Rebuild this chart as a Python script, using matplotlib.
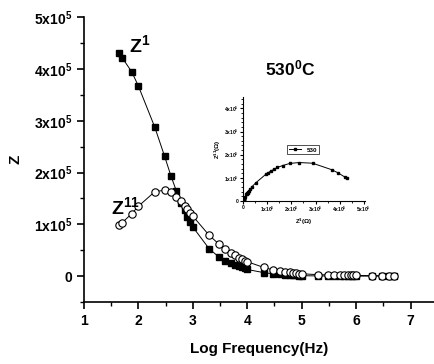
import matplotlib
matplotlib.use("Agg")
import matplotlib.pyplot as plt
from matplotlib.ticker import FixedLocator, MultipleLocator

plt.rcParams['font.family'] = ['Liberation Sans', 'DejaVu Sans']
plt.rcParams['font.weight'] = 'bold'
plt.rcParams['mathtext.fontset'] = 'custom'
plt.rcParams['mathtext.rm'] = 'Liberation Sans'
plt.rcParams['mathtext.bf'] = 'Liberation Sans:bold'
plt.rcParams['mathtext.default'] = 'bf'

# log frequency (Hz)
log_freq = [1.65, 1.70, 1.88, 2.0, 2.3, 2.48, 2.6, 2.7, 2.78, 2.85, 2.9, 2.95, 3.0,
            3.3, 3.48, 3.6, 3.7, 3.78, 3.85, 3.9, 3.95, 4.0,
            4.3, 4.48, 4.6, 4.7, 4.78, 4.85, 4.9, 4.95, 5.0,
            5.3, 5.48, 5.6, 5.7, 5.78, 5.85, 5.9, 5.95, 6.0,
            6.3, 6.48, 6.6, 6.7]

# Z' (real part), ohm
z_real = [4.31e5, 4.22e5, 3.94e5, 3.67e5, 2.88e5, 2.32e5, 1.93e5, 1.64e5, 1.42e5, 1.27e5, 1.14e5, 1.04e5, 0.95e5,
          0.53e5, 0.37e5, 0.30e5, 0.26e5, 0.22e5, 0.19e5, 0.17e5, 0.15e5, 0.13e5,
          0.07e5, 0.045e5, 0.035e5, 0.028e5, 0.022e5, 0.018e5, 0.015e5, 0.012e5, 0.010e5,
          0.006e5, 0.005e5, 0.004e5, 0.004e5, 0.003e5, 0.003e5, 0.003e5, 0.002e5, 0.002e5,
          0.002e5, 0.001e5, 0.001e5, 0.001e5]

# Z'' (imaginary part), ohm
z_imag = [0.98e5, 1.03e5, 1.21e5, 1.35e5, 1.63e5, 1.66e5, 1.62e5, 1.53e5, 1.45e5, 1.36e5, 1.29e5, 1.22e5, 1.16e5,
          0.79e5, 0.62e5, 0.52e5, 0.45e5, 0.40e5, 0.36e5, 0.33e5, 0.30e5, 0.28e5,
          0.17e5, 0.12e5, 0.10e5, 0.085e5, 0.075e5, 0.065e5, 0.058e5, 0.052e5, 0.047e5,
          0.030e5, 0.025e5, 0.022e5, 0.020e5, 0.018e5, 0.017e5, 0.016e5, 0.015e5, 0.015e5,
          0.012e5, 0.011e5, 0.010e5, 0.010e5]

x_ticks = [1, 2, 3, 4, 5, 6, 7]
y_ticks = [0, 1e5, 2e5, 3e5, 4e5, 5e5]
y_tick_labels = ['0', '1x10$^5$', '2x10$^5$', '3x10$^5$', '4x10$^5$', '5x10$^5$']
inset_x_ticks = [0, 1e5, 2e5, 3e5, 4e5, 5e5]
inset_x_labels = ['0', '1x10$^5$', '2x10$^5$', '3x10$^5$', '4x10$^5$', '5x10$^5$']
inset_y_ticks = [0, 1e5, 2e5, 3e5, 4e5]
inset_y_labels = ['0', '1x10$^5$', '2x10$^5$', '3x10$^5$', '4x10$^5$']

fig = plt.figure(figsize=(4.35, 3.64), dpi=100)
ax = fig.add_axes([0.193, 0.170, 0.807, 0.783])

ax.plot(log_freq, z_real, 'k-', lw=0.7, marker='s', ms=4.8, mfc='k', mec='k')
ax.plot(log_freq, z_imag, 'k-', lw=0.7, marker='o', ms=5.3, mfc='white', mec='k', mew=0.8)

ax.set_xlim(1, 7.45)
ax.set_ylim(-0.5e5, 5e5)
ax.spines['top'].set_visible(False)
ax.spines['right'].set_visible(False)
ax.spines['left'].set_linewidth(1.2)
ax.spines['bottom'].set_linewidth(1.2)
ax.xaxis.set_major_locator(FixedLocator(x_ticks))
ax.xaxis.set_minor_locator(MultipleLocator(0.5))
ax.set_yticks(y_ticks)
ax.set_yticklabels(y_tick_labels)
ax.yaxis.set_minor_locator(MultipleLocator(0.5e5))
ax.tick_params(which='major', direction='out', length=5, width=1.2, labelsize=10)
ax.tick_params(which='minor', direction='out', length=3, width=1.0)
for lab in ax.get_xticklabels() + ax.get_yticklabels():
    lab.set_fontweight('bold')

ax.set_xlabel('Log Frequency(Hz)', fontsize=11, fontweight='bold', labelpad=10)
ax.set_ylabel('Z', fontsize=11, fontweight='bold', labelpad=8)

ax.text(1.83, 4.32e5, 'Z$^1$', fontsize=14, fontweight='bold')
ax.text(1.50, 1.19e5, 'Z$^{11}$', fontsize=14, fontweight='bold')
ax.text(4.33, 3.88e5, '530$^0$C', fontsize=12.5, fontweight='bold')

# inset: Nyquist plot
ins = fig.add_axes([0.559, 0.448, 0.280, 0.286])
ins.plot(z_real, z_imag, 'k-', lw=0.7, marker='s', ms=2, label='530')
ins.set_xlim(0, 5.05e5)
ins.set_ylim(0, 4.5e5)
ins.spines['top'].set_visible(False)
ins.spines['right'].set_visible(False)
ins.set_xticks(inset_x_ticks)
ins.set_xticklabels(inset_x_labels)
ins.set_yticks(inset_y_ticks)
ins.set_yticklabels(inset_y_labels)
ins.xaxis.set_minor_locator(MultipleLocator(0.5e5))
ins.yaxis.set_minor_locator(MultipleLocator(0.2e5))
ins.tick_params(which='major', direction='out', length=2, width=0.8, labelsize=3.5, pad=1)
ins.tick_params(which='minor', direction='out', length=1.2, width=0.6)
ins.set_xlabel('Z$^1$($\\Omega$)', fontsize=4.5, fontweight='bold', labelpad=2)
ins.set_ylabel('Z$^{11}$($\\Omega$)', fontsize=4.5, fontweight='bold', labelpad=1)
leg = ins.legend(loc='center', bbox_to_anchor=(0.49, 0.49), fontsize=4.5, frameon=True,
                 handlelength=2, borderpad=0.3, fancybox=False, edgecolor='k')
leg.get_frame().set_linewidth(0.6)

fig.savefig('out.png', dpi=100)
